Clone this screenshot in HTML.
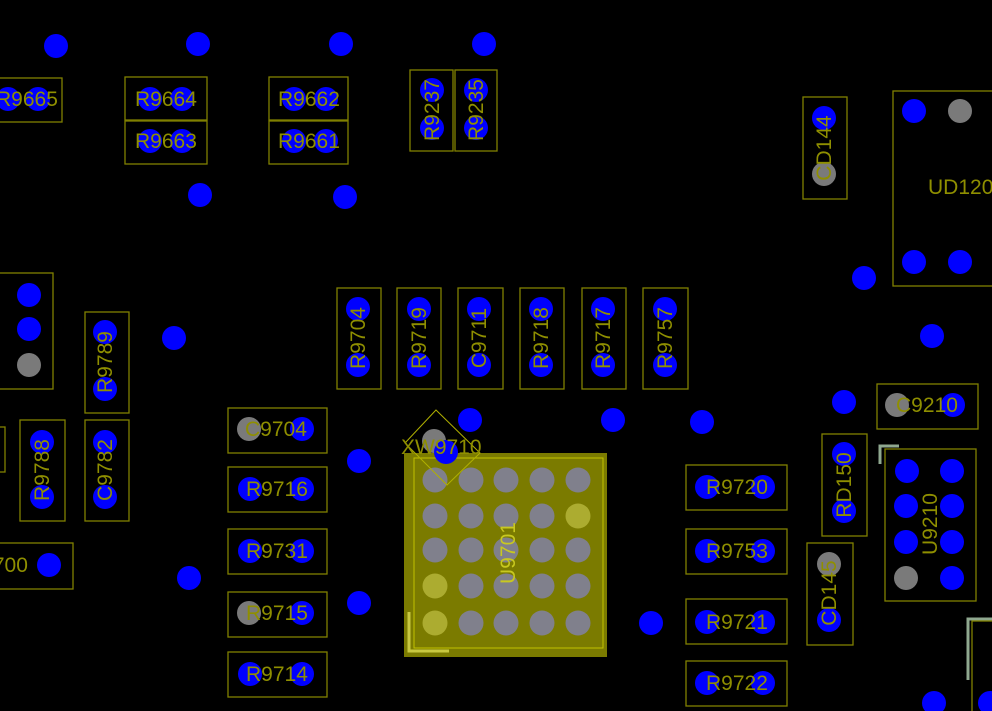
<!DOCTYPE html>
<html><head><meta charset="utf-8"><style>
html,body{margin:0;padding:0;background:#000;width:992px;height:711px;overflow:hidden}
svg{display:block}
text{font-family:"Liberation Sans",sans-serif;font-size:21px;fill:#8f8f00}
.b{fill:none;stroke:#808000;stroke-width:1.3}
.p{fill:#0000ff}.g{fill:#7a7a7a}.q{fill:#80808c}.y{fill:#acac30}
</style></head><body>
<svg width="992" height="711" viewBox="0 0 992 711">
<rect width="992" height="711" fill="#000"/>
<g class="p">
<circle cx="56" cy="46" r="12"/><circle cx="198" cy="44" r="12"/><circle cx="341" cy="44" r="12"/><circle cx="484" cy="44" r="12"/>
<circle cx="200" cy="195" r="12"/><circle cx="345" cy="197" r="12"/>
<circle cx="864" cy="278" r="12"/><circle cx="932" cy="336" r="12"/><circle cx="844" cy="402" r="12"/>
<circle cx="174" cy="338" r="12"/><circle cx="189" cy="578" r="12"/><circle cx="359" cy="461" r="12"/><circle cx="359" cy="603" r="12"/>
<circle cx="470" cy="420" r="12"/><circle cx="613" cy="420" r="12"/><circle cx="702" cy="422" r="12"/><circle cx="651" cy="623" r="12"/>
<circle cx="934" cy="703" r="12"/><circle cx="990" cy="703" r="12"/>
</g>
<rect class="b" x="-5" y="78" width="67" height="44"/>
<circle class="p" cx="8" cy="99" r="12"/><circle class="p" cx="38" cy="99" r="12"/>
<text x="-4" y="106">R9665</text>
<rect class="b" x="125" y="77" width="82" height="43"/><rect class="b" x="125" y="121" width="82" height="43"/>
<circle class="p" cx="150" cy="99" r="12"/><circle class="p" cx="182" cy="99" r="12"/>
<circle class="p" cx="150" cy="141" r="12"/><circle class="p" cx="182" cy="141" r="12"/>
<text x="135" y="106">R9664</text><text x="135" y="148">R9663</text>
<rect class="b" x="269" y="77" width="79" height="43"/><rect class="b" x="269" y="121" width="79" height="43"/>
<circle class="p" cx="294" cy="99" r="12"/><circle class="p" cx="326" cy="99" r="12"/>
<circle class="p" cx="294" cy="141" r="12"/><circle class="p" cx="326" cy="141" r="12"/>
<text x="278" y="106">R9662</text><text x="278" y="148">R9661</text>
<rect class="b" x="410" y="70" width="43" height="81"/><rect class="b" x="455" y="70" width="42" height="81"/>
<circle class="p" cx="432" cy="90" r="12"/><circle class="p" cx="432" cy="128" r="12"/>
<circle class="p" cx="476" cy="90" r="12"/><circle class="p" cx="476" cy="128" r="12"/>
<text transform="translate(439,110) rotate(-90)" text-anchor="middle">R9237</text>
<text transform="translate(483,110) rotate(-90)" text-anchor="middle">R9235</text>
<rect class="b" x="803" y="97" width="44" height="102"/>
<circle class="p" cx="824" cy="118" r="12"/><circle class="g" cx="824" cy="174" r="12"/>
<text transform="translate(831,148) rotate(-90)" text-anchor="middle">CD144</text>
<rect class="b" x="893" y="91" width="110" height="195"/>
<circle class="p" cx="914" cy="111" r="12"/><circle class="g" cx="960" cy="111" r="12"/>
<circle class="p" cx="914" cy="262" r="12"/><circle class="p" cx="960" cy="262" r="12"/>
<text x="928" y="194">UD120</text>
<rect class="b" x="-5" y="273" width="58" height="116"/>
<circle class="p" cx="29" cy="295" r="12"/><circle class="p" cx="29" cy="329" r="12"/><circle class="g" cx="29" cy="365" r="12"/>
<rect class="b" x="85" y="312" width="44" height="101"/>
<circle class="p" cx="105" cy="332" r="12"/><circle class="p" cx="105" cy="389" r="12"/>
<text transform="translate(112,362) rotate(-90)" text-anchor="middle">R9789</text>
<rect class="b" x="-5" y="427" width="10" height="45"/>
<rect class="b" x="20" y="420" width="45" height="101"/>
<circle class="p" cx="42" cy="442" r="12"/><circle class="p" cx="42" cy="497" r="12"/>
<text transform="translate(49,470) rotate(-90)" text-anchor="middle">R9788</text>
<rect class="b" x="85" y="420" width="44" height="101"/>
<circle class="p" cx="105" cy="442" r="12"/><circle class="p" cx="105" cy="497" r="12"/>
<text transform="translate(112,470) rotate(-90)" text-anchor="middle">C9782</text>
<rect class="b" x="-5" y="543" width="78" height="46"/>
<circle class="p" cx="49" cy="565" r="12"/>
<text x="-34" y="572">R9700</text>
<g>
<rect class="b" x="337" y="288" width="44" height="101"/><circle class="p" cx="358" cy="309" r="12"/><circle class="p" cx="358" cy="365" r="12"/>
<text transform="translate(365,338) rotate(-90)" text-anchor="middle">R9704</text>
<rect class="b" x="397" y="288" width="44" height="101"/><circle class="p" cx="419" cy="309" r="12"/><circle class="p" cx="419" cy="365" r="12"/>
<text transform="translate(426,338) rotate(-90)" text-anchor="middle">R9719</text>
<rect class="b" x="458" y="288" width="45" height="101"/><circle class="p" cx="479" cy="309" r="12"/><circle class="p" cx="479" cy="365" r="12"/>
<text transform="translate(486,338) rotate(-90)" text-anchor="middle">C9711</text>
<rect class="b" x="520" y="288" width="44" height="101"/><circle class="p" cx="541" cy="309" r="12"/><circle class="p" cx="541" cy="365" r="12"/>
<text transform="translate(548,338) rotate(-90)" text-anchor="middle">R9718</text>
<rect class="b" x="582" y="288" width="44" height="101"/><circle class="p" cx="603" cy="309" r="12"/><circle class="p" cx="603" cy="365" r="12"/>
<text transform="translate(610,338) rotate(-90)" text-anchor="middle">R9717</text>
<rect class="b" x="643" y="288" width="45" height="101"/><circle class="p" cx="665" cy="309" r="12"/><circle class="p" cx="665" cy="365" r="12"/>
<text transform="translate(672,338) rotate(-90)" text-anchor="middle">R9757</text>
</g>
<rect class="b" x="228" y="408" width="99" height="45"/><circle class="g" cx="249" cy="429" r="12"/><circle class="p" cx="302" cy="429" r="12"/><text x="245" y="436">C9704</text>
<rect class="b" x="228" y="467" width="99" height="45"/><circle class="p" cx="250" cy="489" r="12"/><circle class="p" cx="302" cy="489" r="12"/><text x="246" y="496">R9716</text>
<rect class="b" x="228" y="529" width="99" height="45"/><circle class="p" cx="250" cy="551" r="12"/><circle class="p" cx="302" cy="551" r="12"/><text x="246" y="558">R9731</text>
<rect class="b" x="228" y="592" width="99" height="45"/><circle class="g" cx="249" cy="613" r="12"/><circle class="p" cx="302" cy="613" r="12"/><text x="246" y="620">R9715</text>
<rect class="b" x="228" y="652" width="99" height="45"/><circle class="p" cx="250" cy="674" r="12"/><circle class="p" cx="302" cy="674" r="12"/><text x="246" y="681">R9714</text>
<rect class="b" x="686" y="465" width="101" height="45"/><circle class="p" cx="707" cy="487" r="12"/><circle class="p" cx="763" cy="487" r="12"/><text x="706" y="494">R9720</text>
<rect class="b" x="686" y="529" width="101" height="45"/><circle class="p" cx="707" cy="551" r="12"/><circle class="p" cx="763" cy="551" r="12"/><text x="706" y="558">R9753</text>
<rect class="b" x="686" y="599" width="101" height="45"/><circle class="p" cx="707" cy="622" r="12"/><circle class="p" cx="763" cy="622" r="12"/><text x="706" y="629">R9721</text>
<rect class="b" x="686" y="661" width="101" height="45"/><circle class="p" cx="707" cy="683" r="12"/><circle class="p" cx="763" cy="683" r="12"/><text x="706" y="690">R9722</text>
<rect class="b" x="877" y="384" width="101" height="45"/><circle class="g" cx="897" cy="405" r="12"/><circle class="p" cx="953" cy="405" r="12"/><text x="896" y="412">C9210</text>
<rect class="b" x="822" y="434" width="45" height="102"/><circle class="p" cx="844" cy="454" r="12"/><circle class="p" cx="844" cy="511" r="12"/>
<text transform="translate(851,485) rotate(-90)" text-anchor="middle">RD150</text>
<rect class="b" x="807" y="543" width="46" height="102"/><circle class="g" cx="829" cy="564" r="12"/><circle class="p" cx="829" cy="620" r="12"/>
<text transform="translate(836,593) rotate(-90)" text-anchor="middle">CD145</text>
<rect class="b" x="885" y="449" width="91" height="152"/>
<circle class="p" cx="907" cy="471" r="12"/><circle class="p" cx="952" cy="471" r="12"/>
<circle class="p" cx="906" cy="506" r="12"/><circle class="p" cx="952" cy="506" r="12"/>
<circle class="p" cx="906" cy="542" r="12"/><circle class="p" cx="952" cy="542" r="12"/>
<circle class="g" cx="906" cy="578" r="12"/><circle class="p" cx="952" cy="578" r="12"/>
<text transform="translate(937,524) rotate(-90)" text-anchor="middle">U9210</text>
<path d="M880,464 V446 H899" fill="none" stroke="#8fa88f" stroke-width="3"/>
<path d="M968,680 V619 H995" fill="none" stroke="#8fa88f" stroke-width="3"/>
<rect class="b" x="972" y="621" width="30" height="100"/>
<rect x="404" y="453" width="203" height="204" fill="#7b7b00"/>
<rect x="414" y="458" width="189" height="190" fill="none" stroke="#c0c000" stroke-width="1"/>
<g class="q">
<circle cx="435" cy="480" r="12.5"/><circle cx="471" cy="480" r="12.5"/><circle cx="506" cy="480" r="12.5"/><circle cx="542" cy="480" r="12.5"/><circle cx="578" cy="480" r="12.5"/>
<circle cx="435" cy="516" r="12.5"/><circle cx="471" cy="516" r="12.5"/><circle cx="506" cy="516" r="12.5"/><circle cx="542" cy="516" r="12.5"/>
<circle cx="435" cy="550" r="12.5"/><circle cx="471" cy="550" r="12.5"/><circle cx="506" cy="550" r="12.5"/><circle cx="542" cy="550" r="12.5"/><circle cx="578" cy="550" r="12.5"/>
<circle cx="471" cy="586" r="12.5"/><circle cx="506" cy="586" r="12.5"/><circle cx="542" cy="586" r="12.5"/><circle cx="578" cy="586" r="12.5"/>
<circle cx="471" cy="623" r="12.5"/><circle cx="506" cy="623" r="12.5"/><circle cx="542" cy="623" r="12.5"/><circle cx="578" cy="623" r="12.5"/>
</g>
<g class="y"><circle cx="578" cy="516" r="12.5"/><circle cx="435" cy="586" r="12.5"/><circle cx="435" cy="623" r="12.5"/></g>
<path d="M409,612 V651 H449" fill="none" stroke="#c8c840" stroke-width="3"/>
<text transform="translate(515,553) rotate(-90)" text-anchor="middle" style="fill:#c8c820">U9701</text>
<circle class="g" cx="434" cy="441" r="12"/><circle class="p" cx="446" cy="452" r="12"/>
<path d="M436,410 L480,453 L447,485 L405,443 Z" fill="none" stroke="#b0b000" stroke-width="1"/>
<text x="401" y="454">XW9710</text>
</svg>
</body></html>
